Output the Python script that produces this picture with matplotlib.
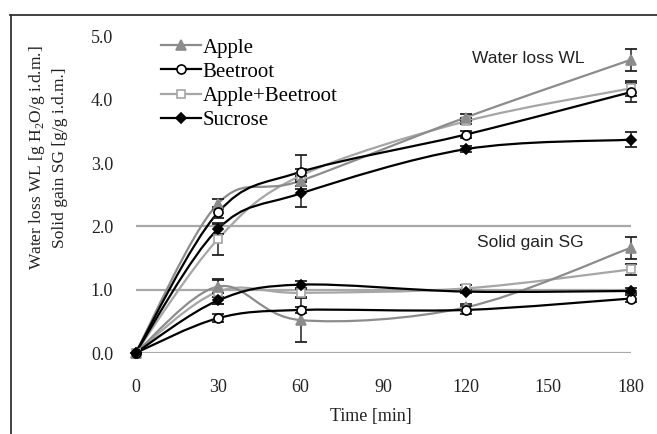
import numpy as np
import matplotlib
matplotlib.use("Agg")
import matplotlib.pyplot as plt
from matplotlib.path import Path
from matplotlib.patches import PathPatch
from matplotlib.lines import Line2D

plt.rcParams['font.family'] = ['Liberation Serif', 'DejaVu Serif']
plt.rcParams['mathtext.fontset'] = 'custom'
plt.rcParams['mathtext.rm'] = 'Liberation Serif'

# ---- data ----
time = [0, 30, 60, 120, 180]
series_names = ["Apple", "Beetroot", "Apple+Beetroot", "Sucrose"]

wl_apple = [0.0, 2.36, 2.72, 3.72, 4.63]
wl_beet = [0.0, 2.22, 2.86, 3.45, 4.12]
wl_mix = [0.0, 1.80, 2.80, 3.66, 4.18]
wl_sucr = [0.0, 1.96, 2.52, 3.22, 3.37]

wl_apple_err = [0.0, 0.08, 0.08, 0.05, 0.18]
wl_beet_err = [0.0, 0.08, 0.27, 0.05, 0.15]
wl_mix_err = [0.0, 0.25, 0.10, 0.05, 0.12]
wl_sucr_err = [0.0, 0.08, 0.21, 0.05, 0.12]

sg_apple = [0.0, 1.05, 0.52, 0.72, 1.66]
sg_beet = [0.0, 0.55, 0.68, 0.68, 0.86]
sg_mix = [0.0, 0.97, 0.95, 1.02, 1.32]
sg_sucr = [0.0, 0.83, 1.08, 0.97, 0.98]

sg_apple_err = [0.0, 0.10, 0.35, 0.05, 0.17]
sg_beet_err = [0.0, 0.06, 0.05, 0.06, 0.05]
sg_mix_err = [0.0, 0.20, 0.06, 0.05, 0.08]
sg_sucr_err = [0.0, 0.05, 0.05, 0.03, 0.04]

xtick_labels = ["0", "30", "60", "90", "120", "150", "180"]
ytick_labels = ["0.0", "1.0", "2.0", "3.0", "4.0", "5.0"]

# ---- figure ----
W, H = 657, 434
fig = plt.figure(figsize=(W / 100, H / 100), dpi=100)
ax = fig.add_axes([135.5 / W, 1 - 353 / H, 495 / W, 316.5 / H])
ax.set_xlim(0, 180)
ax.set_ylim(0, 5)
for s in ax.spines.values():
    s.set_visible(False)

ax.set_xticks([0, 30, 60, 90, 120, 150, 180])
ax.set_xticklabels(xtick_labels)
ax.set_yticks([0, 1, 2, 3, 4, 5])
ax.set_yticklabels(ytick_labels)
ax.tick_params(axis='x', length=0, pad=19, labelsize=13, colors='#222222')
ax.tick_params(axis='y', length=0, pad=16, labelsize=13, colors='#222222')

# grid lines (only the lower ones appear in the reference)
ax.hlines([0, 1, 2], 0, 180, colors='#a8a8a8', lw=1.6, zorder=0)


def smooth_path(xs, ys):
    pts = np.column_stack([xs, ys]).astype(float)
    n = len(pts)
    verts = [pts[0]]
    codes = [Path.MOVETO]
    for i in range(n - 1):
        p0 = pts[i - 1] if i > 0 else pts[i]
        p1 = pts[i]
        p2 = pts[i + 1]
        p3 = pts[i + 2] if i + 2 < n else pts[i + 1]
        c1 = p1 + (p2 - p0) / 6.0
        c2 = p2 - (p3 - p1) / 6.0
        verts += [c1, c2, p2]
        codes += [Path.CURVE4] * 3
    return Path(verts, codes)


styles = {
    "Apple": dict(color='#8c8c8c', marker='^', mfc='#8c8c8c', mec='#8c8c8c', ms=6.5, lw=1.6),
    "Beetroot": dict(color='black', marker='o', mfc='white', mec='black', ms=6.5, lw=1.6),
    "Apple+Beetroot": dict(color='#a6a6a6', marker='s', mfc='white', mec='#a6a6a6', ms=6, lw=1.6),
    "Sucrose": dict(color='black', marker='D', mfc='black', mec='black', ms=5.5, lw=1.6),
}

wl = {"Apple": (wl_apple, wl_apple_err), "Beetroot": (wl_beet, wl_beet_err),
      "Apple+Beetroot": (wl_mix, wl_mix_err), "Sucrose": (wl_sucr, wl_sucr_err)}
sg = {"Apple": (sg_apple, sg_apple_err), "Beetroot": (sg_beet, sg_beet_err),
      "Apple+Beetroot": (sg_mix, sg_mix_err), "Sucrose": (sg_sucr, sg_sucr_err)}

order = ["Apple+Beetroot", "Apple", "Beetroot", "Sucrose"]
for group in (wl, sg):
    for name in order:
        vals, errs = group[name]
        st = styles[name]
        patch = PathPatch(smooth_path(time, vals), fill=False, edgecolor=st['color'],
                          lw=st['lw'], transform=ax.transData, zorder=3, clip_on=False)
        ax.add_patch(patch)
        ax.errorbar(time[1:], vals[1:], yerr=errs[1:], fmt='none', ecolor='#222222',
                    elinewidth=1.1, capsize=4, capthick=1.3, zorder=4, clip_on=False)
        ax.plot(time, vals, linestyle='none', marker=st['marker'], mfc=st['mfc'],
                mec=st['mec'], ms=st['ms'], mew=1.2, zorder=5, clip_on=False)

# legend
handles = []
for name in series_names:
    st = styles[name]
    handles.append(Line2D([], [], color=st['color'], lw=st['lw'], marker=st['marker'],
                          mfc=st['mfc'], mec=st['mec'], ms=st['ms'], mew=1.2))
leg = fig.legend(handles, series_names, loc='upper left',
                 bbox_to_anchor=(161 / W, 1 - 38 / H), frameon=False,
                 fontsize=15, handlelength=1.9, handletextpad=0.1,
                 labelspacing=0.22, borderpad=0, borderaxespad=0)

# annotations
ax.text(143, 4.66, "Water loss WL", family=['Liberation Sans'], fontsize=12.5,
        ha='center', va='center', color='#222222')
ax.text(143.5, 1.74, "Solid gain SG", family=['Liberation Sans'], fontsize=12.5,
        ha='center', va='center', color='#222222')

# axis labels
fig.text(47.5 / W, 1 - 158 / H,
         "Water loss WL [g H$_\\mathregular{2}$O/g i.d.m.]\nSolid gain SG [g/g i.d.m.]",
         rotation=90, ha='center', va='center', fontsize=12.5, linespacing=1.45,
         multialignment='center', color='#222222')
fig.text(371 / W, 1 - 416 / H, "Time [min]", ha='center', va='center',
         fontsize=13, color='#222222')

# outer frame (top and left edges visible)
fig.add_artist(Line2D([10 / W, 1.0], [1 - 14.5 / H, 1 - 14.5 / H], color='#333333', lw=1.3,
                      transform=fig.transFigure))
fig.add_artist(Line2D([10.5 / W, 10.5 / W], [0, 1 - 14.5 / H], color='#333333', lw=1.3,
                      transform=fig.transFigure))

fig.savefig("out.png", dpi=100)
